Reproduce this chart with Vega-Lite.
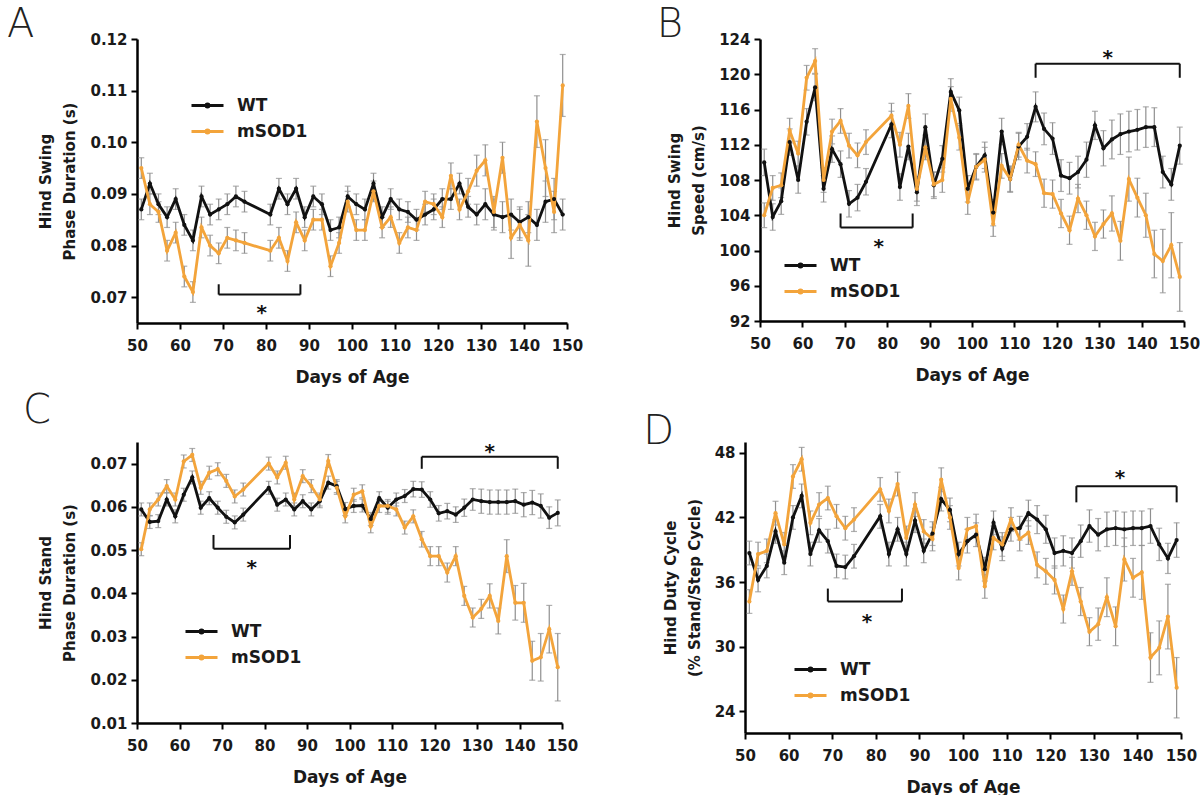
{
"$schema":"https://vega.github.io/schema/vega-lite/v6.json",
"padding":{"left":6,"top":5,"right":0,"bottom":0},
"background":"white",
"config":{
 "view":{"stroke":null},
 "font":"DejaVu Sans",
 "axis":{"grid":false,"domainColor":"#000","domainWidth":2.5,"tickColor":"#000","tickWidth":2,"tickSize":6,"labelFont":"DejaVu Sans","labelFontSize":15,"labelFontWeight":"bold","labelColor":"#1a1a1a","titleFont":"DejaVu Sans","titleFontSize":15,"titleFontWeight":"bold","titleColor":"#1a1a1a","labelPadding":4,"labelOverlap":false},
 "axisX":{"titleFontSize":17,"titlePadding":16,"labelPadding":9,"labelFlush":false},
 "axisY":{"titlePadding":12,"titleLineHeight":24},
 "title":{"font":"DejaVu Sans","fontSize":40,"fontWeight":300,"anchor":"start","frame":"bounds","baseline":"alphabetic","offset":-13,"color":"#222"},
 "legend":{"labelFont":"DejaVu Sans","labelFontSize":17,"labelFontWeight":"bold","labelColor":"#1a1a1a","symbolType":"M-1,0H1M-0.1,0A0.1,0.1 0 1,0 0.1,0A0.1,0.1 0 1,0 -0.1,0","symbolSize":1024,"symbolStrokeWidth":2.8,"rowPadding":-8,"labelOffset":12}
},
"resolve":{"scale":{"color":"independent"},"legend":{"color":"independent"}},
"vconcat":[
 {"hconcat":[
  {"width":430,"height":284,"title":{"text":"A","dx":-32},
   "layer":[
    {"data":{"name":"A"},"mark":{"type":"errorbar","color":"#8f8f8f","thickness":1.2,"size":6,"ticks":true},
     "encoding":{"x":{"field":"d","type":"quantitative","scale":{"domain":[50,150],"nice":false,"zero":false},"axis":{"title":"Days of Age","values":[50,60,70,80,90,100,110,120,130,140,150],"labelOverlap":false}},
      "y":{"field":"m","type":"quantitative","scale":{"domain":[0.065,0.12],"nice":false,"zero":false},"axis":{"title":["Hind Swing","Phase Duration (s)"],"values":[0.07,0.08,0.09,0.1,0.11,0.12],"format":".2f","labelOverlap":false}},
      "yError":{"field":"e"},"detail":{"field":"g"}}},
    {"data":{"name":"A"},"mark":{"type":"line","strokeWidth":2.8,"point":{"filled":true,"size":18}},
     "encoding":{"x":{"field":"d","type":"quantitative"},"y":{"field":"m","type":"quantitative"},
      "color":{"field":"g","type":"nominal","scale":{"domain":["WT","mSOD1"],"range":["#111111","#F3A43B"]},"legend":{"title":null,"orient":"none","legendX":53,"legendY":49}}}},
    {"data":{"name":"bA"},"mark":{"type":"rule","color":"#111","strokeWidth":2},
     "encoding":{"x":{"field":"d","type":"quantitative"},"x2":{"field":"d2"},"y":{"field":"m","type":"quantitative"},"y2":{"field":"m2"}}},
    {"data":{"name":"sA"},"mark":{"type":"text","fontSize":20,"fontWeight":"bold","baseline":"middle","dy":5,"color":"#111"},
     "encoding":{"x":{"field":"d","type":"quantitative"},"y":{"field":"m","type":"quantitative"},"text":{"field":"t"}}}
   ]},
  {"width":424,"height":282,"title":{"text":"B","dx":-11},
   "layer":[
    {"data":{"name":"B"},"mark":{"type":"errorbar","color":"#8f8f8f","thickness":1.2,"size":6,"ticks":true},
     "encoding":{"x":{"field":"d","type":"quantitative","scale":{"domain":[50,150],"nice":false,"zero":false},"axis":{"title":"Days of Age","values":[50,60,70,80,90,100,110,120,130,140,150],"labelOverlap":false}},
      "y":{"field":"m","type":"quantitative","scale":{"domain":[92,124],"nice":false,"zero":false},"axis":{"title":["Hind Swing","Speed (cm/s)"],"values":[92,96,100,104,108,112,116,120,124],"format":"d","labelOverlap":false,"tickCount":9}},
      "yError":{"field":"e"},"detail":{"field":"g"}}},
    {"data":{"name":"B"},"mark":{"type":"line","strokeWidth":2.8,"point":{"filled":true,"size":18}},
     "encoding":{"x":{"field":"d","type":"quantitative"},"y":{"field":"m","type":"quantitative"},
      "color":{"field":"g","type":"nominal","scale":{"domain":["WT","mSOD1"],"range":["#111111","#F3A43B"]},"legend":{"title":null,"orient":"none","legendX":23,"legendY":209}}}},
    {"data":{"name":"bB"},"mark":{"type":"rule","color":"#111","strokeWidth":2},
     "encoding":{"x":{"field":"d","type":"quantitative"},"x2":{"field":"d2"},"y":{"field":"m","type":"quantitative"},"y2":{"field":"m2"}}},
    {"data":{"name":"sB"},"mark":{"type":"text","fontSize":20,"fontWeight":"bold","baseline":"middle","dy":5,"color":"#111"},
     "encoding":{"x":{"field":"d","type":"quantitative"},"y":{"field":"m","type":"quantitative"},"text":{"field":"t"}}}
   ]}
 ],"spacing":73,"resolve":{"scale":{"color":"independent"},"legend":{"color":"independent"}}},
 {"hconcat":[
  {"width":425,"height":281,"title":{"text":"C","dx":-16,"offset":11},
   "layer":[
    {"data":{"name":"C"},"mark":{"type":"errorbar","color":"#8f8f8f","thickness":1.2,"size":6,"ticks":true},
     "encoding":{"x":{"field":"d","type":"quantitative","scale":{"domain":[50,150],"nice":false,"zero":false},"axis":{"title":"Days of Age","values":[50,60,70,80,90,100,110,120,130,140,150],"labelOverlap":false}},
      "y":{"field":"m","type":"quantitative","scale":{"domain":[0.01,0.075],"nice":false,"zero":false},"axis":{"title":["Hind Stand","Phase Duration (s)"],"values":[0.01,0.02,0.03,0.04,0.05,0.06,0.07],"format":".2f","labelOverlap":false}},
      "yError":{"field":"e"},"detail":{"field":"g"}}},
    {"data":{"name":"C"},"mark":{"type":"line","strokeWidth":2.8,"point":{"filled":true,"size":18}},
     "encoding":{"x":{"field":"d","type":"quantitative"},"y":{"field":"m","type":"quantitative"},
      "color":{"field":"g","type":"nominal","scale":{"domain":["WT","mSOD1"],"range":["#111111","#F3A43B"]},"legend":{"title":null,"orient":"none","legendX":47,"legendY":172}}}},
    {"data":{"name":"bC"},"mark":{"type":"rule","color":"#111","strokeWidth":2},
     "encoding":{"x":{"field":"d","type":"quantitative"},"x2":{"field":"d2"},"y":{"field":"m","type":"quantitative"},"y2":{"field":"m2"}}},
    {"data":{"name":"sC"},"mark":{"type":"text","fontSize":20,"fontWeight":"bold","baseline":"middle","dy":5,"color":"#111"},
     "encoding":{"x":{"field":"d","type":"quantitative"},"y":{"field":"m","type":"quantitative"},"text":{"field":"t"}}}
   ]},
  {"width":436,"height":291,"title":{"text":"D","dx":-20,"offset":-10},
   "layer":[
    {"data":{"name":"D"},"mark":{"type":"errorbar","color":"#8f8f8f","thickness":1.2,"size":6,"ticks":true},
     "encoding":{"x":{"field":"d","type":"quantitative","scale":{"domain":[50,150],"nice":false,"zero":false},"axis":{"title":"Days of Age","values":[50,60,70,80,90,100,110,120,130,140,150],"labelOverlap":false}},
      "y":{"field":"m","type":"quantitative","scale":{"domain":[22,49],"nice":false,"zero":false},"axis":{"title":["Hind Duty Cycle","(% Stand/Step Cycle)"],"values":[24,30,36,42,48],"labelOverlap":false}},
      "yError":{"field":"e"},"detail":{"field":"g"}}},
    {"data":{"name":"D"},"mark":{"type":"line","strokeWidth":2.8,"point":{"filled":true,"size":18}},
     "encoding":{"x":{"field":"d","type":"quantitative"},"y":{"field":"m","type":"quantitative"},
      "color":{"field":"g","type":"nominal","scale":{"domain":["WT","mSOD1"],"range":["#111111","#F3A43B"]},"legend":{"title":null,"orient":"none","legendX":48,"legendY":210}}}},
    {"data":{"name":"bD"},"mark":{"type":"rule","color":"#111","strokeWidth":2},
     "encoding":{"x":{"field":"d","type":"quantitative"},"x2":{"field":"d2"},"y":{"field":"m","type":"quantitative"},"y2":{"field":"m2"}}},
    {"data":{"name":"sD"},"mark":{"type":"text","fontSize":20,"fontWeight":"bold","baseline":"middle","dy":5,"color":"#111"},
     "encoding":{"x":{"field":"d","type":"quantitative"},"y":{"field":"m","type":"quantitative"},"text":{"field":"t"}}}
   ]}
 ],"spacing":65,"resolve":{"scale":{"color":"independent"},"legend":{"color":"independent"}}}
],
"spacing":6,
"datasets":{
"bA":[{"d":69,"d2":88,"m":0.0705,"m2":0.0705},{"d":69,"d2":69,"m":0.0705,"m2":0.0725},{"d":88,"d2":88,"m":0.0705,"m2":0.0725}],
"sA":[{"d":79,"m":0.068,"t":"*"}],
"bB":[{"d":69,"d2":86,"m":102.6,"m2":102.6},{"d":69,"d2":69,"m":102.6,"m2":104.2},{"d":86,"d2":86,"m":102.6,"m2":104.2},{"d":115,"d2":149,"m":121.2,"m2":121.2},{"d":115,"d2":115,"m":121.2,"m2":119.6},{"d":149,"d2":149,"m":121.2,"m2":119.6}],
"sB":[{"d":78,"m":101,"t":"*"},{"d":132,"m":122.4,"t":"*"}],
"bC":[{"d":68,"d2":86,"m":0.0503,"m2":0.0503},{"d":68,"d2":68,"m":0.0503,"m2":0.0535},{"d":86,"d2":86,"m":0.0503,"m2":0.0535},{"d":117,"d2":149,"m":0.0716,"m2":0.0716},{"d":117,"d2":117,"m":0.0716,"m2":0.0688},{"d":149,"d2":149,"m":0.0716,"m2":0.0688}],
"sC":[{"d":77,"m":0.047,"t":"*"},{"d":133,"m":0.0738,"t":"*"}],
"bD":[{"d":69,"d2":86,"m":34.2,"m2":34.2},{"d":69,"d2":69,"m":34.2,"m2":35.4},{"d":86,"d2":86,"m":34.2,"m2":35.4},{"d":126,"d2":149,"m":44.9,"m2":44.9},{"d":126,"d2":126,"m":44.9,"m2":43.4},{"d":149,"d2":149,"m":44.9,"m2":43.4}],
"sD":[{"d":78,"m":32.8,"t":"*"},{"d":136,"m":46.1,"t":"*"}],
"A":[
{"d":51,"g":"WT","m":0.087,"e":0.002},{"d":53,"g":"WT","m":0.092,"e":0.002},{"d":55,"g":"WT","m":0.088,"e":0.002},{"d":57,"g":"WT","m":0.0855,"e":0.002},{"d":59,"g":"WT","m":0.089,"e":0.002},{"d":61,"g":"WT","m":0.084,"e":0.002},{"d":63,"g":"WT","m":0.081,"e":0.002},{"d":65,"g":"WT","m":0.0895,"e":0.002},{"d":67,"g":"WT","m":0.086,"e":0.002},{"d":69,"g":"WT","m":0.087,"e":0.002},{"d":71,"g":"WT","m":0.088,"e":0.002},{"d":73,"g":"WT","m":0.0895,"e":0.002},{"d":75,"g":"WT","m":0.0885,"e":0.002},{"d":81,"g":"WT","m":0.086,"e":0.002},{"d":83,"g":"WT","m":0.091,"e":0.002},{"d":85,"g":"WT","m":0.088,"e":0.002},{"d":87,"g":"WT","m":0.091,"e":0.002},{"d":89,"g":"WT","m":0.0855,"e":0.002},{"d":91,"g":"WT","m":0.0895,"e":0.002},{"d":93,"g":"WT","m":0.088,"e":0.002},{"d":95,"g":"WT","m":0.083,"e":0.002},{"d":97,"g":"WT","m":0.0835,"e":0.002},{"d":99,"g":"WT","m":0.0895,"e":0.002},{"d":101,"g":"WT","m":0.088,"e":0.002},{"d":103,"g":"WT","m":0.087,"e":0.002},{"d":105,"g":"WT","m":0.092,"e":0.002},{"d":107,"g":"WT","m":0.0855,"e":0.002},{"d":109,"g":"WT","m":0.089,"e":0.002},{"d":111,"g":"WT","m":0.087,"e":0.002},{"d":113,"g":"WT","m":0.0865,"e":0.002},{"d":115,"g":"WT","m":0.085,"e":0.002},{"d":117,"g":"WT","m":0.086,"e":0.002},{"d":119,"g":"WT","m":0.087,"e":0.002},{"d":121,"g":"WT","m":0.089,"e":0.002},{"d":123,"g":"WT","m":0.089,"e":0.002},{"d":125,"g":"WT","m":0.092,"e":0.002},{"d":127,"g":"WT","m":0.0875,"e":0.002},{"d":129,"g":"WT","m":0.086,"e":0.002},{"d":131,"g":"WT","m":0.088,"e":0.003},{"d":133,"g":"WT","m":0.086,"e":0.003},{"d":135,"g":"WT","m":0.0855,"e":0.003},{"d":137,"g":"WT","m":0.086,"e":0.003},{"d":139,"g":"WT","m":0.0845,"e":0.003},{"d":141,"g":"WT","m":0.0855,"e":0.003},{"d":143,"g":"WT","m":0.084,"e":0.003},{"d":145,"g":"WT","m":0.0885,"e":0.004},{"d":147,"g":"WT","m":0.089,"e":0.004},{"d":149,"g":"WT","m":0.086,"e":0.003},
{"d":51,"g":"mSOD1","m":0.095,"e":0.002},{"d":53,"g":"mSOD1","m":0.088,"e":0.002},{"d":55,"g":"mSOD1","m":0.0865,"e":0.002},{"d":57,"g":"mSOD1","m":0.079,"e":0.002},{"d":59,"g":"mSOD1","m":0.0825,"e":0.002},{"d":61,"g":"mSOD1","m":0.074,"e":0.002},{"d":63,"g":"mSOD1","m":0.071,"e":0.002},{"d":65,"g":"mSOD1","m":0.0835,"e":0.002},{"d":67,"g":"mSOD1","m":0.08,"e":0.002},{"d":69,"g":"mSOD1","m":0.0785,"e":0.002},{"d":71,"g":"mSOD1","m":0.0815,"e":0.002},{"d":73,"g":"mSOD1","m":0.081,"e":0.002},{"d":75,"g":"mSOD1","m":0.0805,"e":0.002},{"d":81,"g":"mSOD1","m":0.079,"e":0.002},{"d":83,"g":"mSOD1","m":0.0815,"e":0.002},{"d":85,"g":"mSOD1","m":0.077,"e":0.002},{"d":87,"g":"mSOD1","m":0.0845,"e":0.002},{"d":89,"g":"mSOD1","m":0.081,"e":0.002},{"d":91,"g":"mSOD1","m":0.085,"e":0.002},{"d":93,"g":"mSOD1","m":0.085,"e":0.002},{"d":95,"g":"mSOD1","m":0.076,"e":0.002},{"d":97,"g":"mSOD1","m":0.0805,"e":0.002},{"d":99,"g":"mSOD1","m":0.0885,"e":0.002},{"d":101,"g":"mSOD1","m":0.083,"e":0.002},{"d":103,"g":"mSOD1","m":0.083,"e":0.002},{"d":105,"g":"mSOD1","m":0.0905,"e":0.002},{"d":107,"g":"mSOD1","m":0.0835,"e":0.002},{"d":109,"g":"mSOD1","m":0.0855,"e":0.002},{"d":111,"g":"mSOD1","m":0.0805,"e":0.002},{"d":113,"g":"mSOD1","m":0.0835,"e":0.002},{"d":115,"g":"mSOD1","m":0.083,"e":0.002},{"d":117,"g":"mSOD1","m":0.0885,"e":0.002},{"d":119,"g":"mSOD1","m":0.088,"e":0.002},{"d":121,"g":"mSOD1","m":0.0855,"e":0.002},{"d":123,"g":"mSOD1","m":0.0935,"e":0.0025},{"d":125,"g":"mSOD1","m":0.087,"e":0.002},{"d":127,"g":"mSOD1","m":0.0905,"e":0.0025},{"d":129,"g":"mSOD1","m":0.0945,"e":0.003},{"d":131,"g":"mSOD1","m":0.0965,"e":0.003},{"d":133,"g":"mSOD1","m":0.0865,"e":0.003},{"d":135,"g":"mSOD1","m":0.097,"e":0.003},{"d":137,"g":"mSOD1","m":0.0815,"e":0.004},{"d":139,"g":"mSOD1","m":0.084,"e":0.003},{"d":141,"g":"mSOD1","m":0.081,"e":0.005},{"d":143,"g":"mSOD1","m":0.104,"e":0.005},{"d":145,"g":"mSOD1","m":0.095,"e":0.0055},{"d":147,"g":"mSOD1","m":0.0865,"e":0.004},{"d":149,"g":"mSOD1","m":0.111,"e":0.006}
],
"B":[
{"d":51,"g":"WT","m":110,"e":1.5},{"d":53,"g":"WT","m":103.8,"e":1.5},{"d":55,"g":"WT","m":105.6,"e":1.5},{"d":57,"g":"WT","m":112.3,"e":1.5},{"d":59,"g":"WT","m":108,"e":1.5},{"d":61,"g":"WT","m":114.6,"e":1.5},{"d":63,"g":"WT","m":118.5,"e":1.5},{"d":65,"g":"WT","m":107,"e":1.5},{"d":67,"g":"WT","m":111.5,"e":1.5},{"d":69,"g":"WT","m":109.8,"e":1.5},{"d":71,"g":"WT","m":105.3,"e":1.5},{"d":73,"g":"WT","m":106,"e":1.5},{"d":75,"g":"WT","m":107.8,"e":1.5},{"d":81,"g":"WT","m":114.3,"e":1.5},{"d":83,"g":"WT","m":107.2,"e":1.5},{"d":85,"g":"WT","m":111.8,"e":1.5},{"d":87,"g":"WT","m":106.6,"e":1.5},{"d":89,"g":"WT","m":114,"e":1.5},{"d":91,"g":"WT","m":107.4,"e":1.5},{"d":93,"g":"WT","m":110.4,"e":1.5},{"d":95,"g":"WT","m":118,"e":1.5},{"d":97,"g":"WT","m":115.9,"e":1.5},{"d":99,"g":"WT","m":107,"e":1.5},{"d":101,"g":"WT","m":109.5,"e":1.5},{"d":103,"g":"WT","m":110.8,"e":1.5},{"d":105,"g":"WT","m":104.3,"e":1.5},{"d":107,"g":"WT","m":113.5,"e":1.5},{"d":109,"g":"WT","m":108.1,"e":1.5},{"d":111,"g":"WT","m":111.8,"e":1.5},{"d":113,"g":"WT","m":112.9,"e":1.5},{"d":115,"g":"WT","m":116.3,"e":1.7},{"d":117,"g":"WT","m":113.8,"e":1.8},{"d":119,"g":"WT","m":112.7,"e":1.8},{"d":121,"g":"WT","m":108.5,"e":1.8},{"d":123,"g":"WT","m":108.2,"e":1.8},{"d":125,"g":"WT","m":108.9,"e":1.8},{"d":127,"g":"WT","m":110.3,"e":2},{"d":129,"g":"WT","m":114.2,"e":1.6},{"d":131,"g":"WT","m":111.6,"e":2},{"d":133,"g":"WT","m":112.6,"e":2.2},{"d":135,"g":"WT","m":113.2,"e":2.3},{"d":137,"g":"WT","m":113.5,"e":2.3},{"d":139,"g":"WT","m":113.7,"e":2.3},{"d":141,"g":"WT","m":114,"e":2.3},{"d":143,"g":"WT","m":114,"e":2.2},{"d":145,"g":"WT","m":108.9,"e":1.8},{"d":147,"g":"WT","m":107.5,"e":1.8},{"d":149,"g":"WT","m":111.9,"e":2.1},
{"d":51,"g":"mSOD1","m":104,"e":1.4},{"d":53,"g":"mSOD1","m":107.1,"e":1.4},{"d":55,"g":"mSOD1","m":107.4,"e":1.4},{"d":57,"g":"mSOD1","m":113.6,"e":1.4},{"d":59,"g":"mSOD1","m":111,"e":1.4},{"d":61,"g":"mSOD1","m":119.6,"e":1.4},{"d":63,"g":"mSOD1","m":121.5,"e":1.4},{"d":65,"g":"mSOD1","m":108,"e":1.4},{"d":67,"g":"mSOD1","m":113.5,"e":1.4},{"d":69,"g":"mSOD1","m":114.7,"e":1.4},{"d":71,"g":"mSOD1","m":111.9,"e":1.4},{"d":73,"g":"mSOD1","m":110.8,"e":1.4},{"d":75,"g":"mSOD1","m":112.3,"e":1.4},{"d":81,"g":"mSOD1","m":115.3,"e":1.4},{"d":83,"g":"mSOD1","m":112,"e":1.4},{"d":85,"g":"mSOD1","m":116.4,"e":1.4},{"d":87,"g":"mSOD1","m":107,"e":1.4},{"d":89,"g":"mSOD1","m":111.7,"e":1.4},{"d":91,"g":"mSOD1","m":107.5,"e":1.4},{"d":93,"g":"mSOD1","m":108,"e":1.4},{"d":95,"g":"mSOD1","m":117.2,"e":1.4},{"d":97,"g":"mSOD1","m":112.8,"e":1.4},{"d":99,"g":"mSOD1","m":105.5,"e":1.4},{"d":101,"g":"mSOD1","m":109.5,"e":1.4},{"d":103,"g":"mSOD1","m":110.3,"e":1.4},{"d":105,"g":"mSOD1","m":103,"e":1.4},{"d":107,"g":"mSOD1","m":109.6,"e":1.4},{"d":109,"g":"mSOD1","m":108.1,"e":1.4},{"d":111,"g":"mSOD1","m":112,"e":1.4},{"d":113,"g":"mSOD1","m":110.2,"e":1.4},{"d":115,"g":"mSOD1","m":109.8,"e":1.4},{"d":117,"g":"mSOD1","m":106.5,"e":1.6},{"d":119,"g":"mSOD1","m":106.4,"e":1.6},{"d":121,"g":"mSOD1","m":104.2,"e":1.6},{"d":123,"g":"mSOD1","m":102.3,"e":1.6},{"d":125,"g":"mSOD1","m":105.9,"e":1.6},{"d":127,"g":"mSOD1","m":104,"e":1.6},{"d":129,"g":"mSOD1","m":101.6,"e":1.6},{"d":131,"g":"mSOD1","m":103,"e":1.6},{"d":133,"g":"mSOD1","m":104.2,"e":2},{"d":135,"g":"mSOD1","m":101.1,"e":2.2},{"d":137,"g":"mSOD1","m":108.1,"e":2.5},{"d":139,"g":"mSOD1","m":106,"e":2.2},{"d":141,"g":"mSOD1","m":104,"e":2.5},{"d":143,"g":"mSOD1","m":99.6,"e":2.7},{"d":145,"g":"mSOD1","m":98.8,"e":3.6},{"d":147,"g":"mSOD1","m":100.6,"e":3.7},{"d":149,"g":"mSOD1","m":97,"e":3.9}
],
"C":[
{"d":51,"g":"WT","m":0.0594,"e":0.0015},{"d":53,"g":"WT","m":0.0565,"e":0.0015},{"d":55,"g":"WT","m":0.0567,"e":0.0015},{"d":57,"g":"WT","m":0.0617,"e":0.0015},{"d":59,"g":"WT","m":0.0578,"e":0.0015},{"d":61,"g":"WT","m":0.0628,"e":0.0015},{"d":63,"g":"WT","m":0.0668,"e":0.0015},{"d":65,"g":"WT","m":0.0598,"e":0.0015},{"d":67,"g":"WT","m":0.062,"e":0.0015},{"d":69,"g":"WT","m":0.0598,"e":0.0015},{"d":71,"g":"WT","m":0.0577,"e":0.0015},{"d":73,"g":"WT","m":0.0564,"e":0.0015},{"d":75,"g":"WT","m":0.0582,"e":0.0015},{"d":81,"g":"WT","m":0.0644,"e":0.0015},{"d":83,"g":"WT","m":0.0605,"e":0.0015},{"d":85,"g":"WT","m":0.0617,"e":0.0015},{"d":87,"g":"WT","m":0.0594,"e":0.0015},{"d":89,"g":"WT","m":0.0613,"e":0.0015},{"d":91,"g":"WT","m":0.0594,"e":0.0015},{"d":93,"g":"WT","m":0.0613,"e":0.0015},{"d":95,"g":"WT","m":0.0656,"e":0.0015},{"d":97,"g":"WT","m":0.0648,"e":0.0015},{"d":99,"g":"WT","m":0.0595,"e":0.0015},{"d":101,"g":"WT","m":0.0602,"e":0.0015},{"d":103,"g":"WT","m":0.0603,"e":0.0015},{"d":105,"g":"WT","m":0.0572,"e":0.0015},{"d":107,"g":"WT","m":0.062,"e":0.0015},{"d":109,"g":"WT","m":0.0598,"e":0.0015},{"d":111,"g":"WT","m":0.0617,"e":0.0015},{"d":113,"g":"WT","m":0.0625,"e":0.0015},{"d":115,"g":"WT","m":0.0641,"e":0.0018},{"d":117,"g":"WT","m":0.064,"e":0.0018},{"d":119,"g":"WT","m":0.0617,"e":0.0018},{"d":121,"g":"WT","m":0.0585,"e":0.0018},{"d":123,"g":"WT","m":0.059,"e":0.0018},{"d":125,"g":"WT","m":0.0582,"e":0.0018},{"d":127,"g":"WT","m":0.0598,"e":0.002},{"d":129,"g":"WT","m":0.0617,"e":0.0025},{"d":131,"g":"WT","m":0.0613,"e":0.0028},{"d":133,"g":"WT","m":0.0611,"e":0.0028},{"d":135,"g":"WT","m":0.0611,"e":0.0028},{"d":137,"g":"WT","m":0.0611,"e":0.0028},{"d":139,"g":"WT","m":0.0613,"e":0.0028},{"d":141,"g":"WT","m":0.0605,"e":0.0028},{"d":143,"g":"WT","m":0.061,"e":0.0028},{"d":145,"g":"WT","m":0.0602,"e":0.0028},{"d":147,"g":"WT","m":0.0575,"e":0.0025},{"d":149,"g":"WT","m":0.0586,"e":0.003},
{"d":51,"g":"mSOD1","m":0.0502,"e":0.0015},{"d":53,"g":"mSOD1","m":0.0594,"e":0.0015},{"d":55,"g":"mSOD1","m":0.0617,"e":0.0015},{"d":57,"g":"mSOD1","m":0.0648,"e":0.0015},{"d":59,"g":"mSOD1","m":0.0617,"e":0.0015},{"d":61,"g":"mSOD1","m":0.0705,"e":0.0015},{"d":63,"g":"mSOD1","m":0.072,"e":0.0015},{"d":65,"g":"mSOD1","m":0.0644,"e":0.0015},{"d":67,"g":"mSOD1","m":0.0679,"e":0.0015},{"d":69,"g":"mSOD1","m":0.0687,"e":0.0015},{"d":71,"g":"mSOD1","m":0.066,"e":0.0015},{"d":73,"g":"mSOD1","m":0.0624,"e":0.0015},{"d":75,"g":"mSOD1","m":0.064,"e":0.0015},{"d":81,"g":"mSOD1","m":0.07,"e":0.0015},{"d":83,"g":"mSOD1","m":0.0668,"e":0.0015},{"d":85,"g":"mSOD1","m":0.0702,"e":0.0015},{"d":87,"g":"mSOD1","m":0.0617,"e":0.0015},{"d":89,"g":"mSOD1","m":0.0671,"e":0.0015},{"d":91,"g":"mSOD1","m":0.0648,"e":0.0015},{"d":93,"g":"mSOD1","m":0.0617,"e":0.0015},{"d":95,"g":"mSOD1","m":0.0706,"e":0.0015},{"d":97,"g":"mSOD1","m":0.0644,"e":0.0015},{"d":99,"g":"mSOD1","m":0.0578,"e":0.0015},{"d":101,"g":"mSOD1","m":0.0628,"e":0.0015},{"d":103,"g":"mSOD1","m":0.0636,"e":0.0015},{"d":105,"g":"mSOD1","m":0.0555,"e":0.0015},{"d":107,"g":"mSOD1","m":0.0602,"e":0.0015},{"d":109,"g":"mSOD1","m":0.0602,"e":0.0015},{"d":111,"g":"mSOD1","m":0.0594,"e":0.0015},{"d":113,"g":"mSOD1","m":0.0552,"e":0.0015},{"d":115,"g":"mSOD1","m":0.0578,"e":0.0015},{"d":117,"g":"mSOD1","m":0.0525,"e":0.0018},{"d":119,"g":"mSOD1","m":0.0486,"e":0.0022},{"d":121,"g":"mSOD1","m":0.0486,"e":0.0022},{"d":123,"g":"mSOD1","m":0.0448,"e":0.0022},{"d":125,"g":"mSOD1","m":0.0486,"e":0.0022},{"d":127,"g":"mSOD1","m":0.0394,"e":0.0022},{"d":129,"g":"mSOD1","m":0.0344,"e":0.0022},{"d":131,"g":"mSOD1","m":0.0364,"e":0.0022},{"d":133,"g":"mSOD1","m":0.0394,"e":0.0028},{"d":135,"g":"mSOD1","m":0.0336,"e":0.003},{"d":137,"g":"mSOD1","m":0.0486,"e":0.0038},{"d":139,"g":"mSOD1","m":0.0378,"e":0.004},{"d":141,"g":"mSOD1","m":0.0378,"e":0.0045},{"d":143,"g":"mSOD1","m":0.0244,"e":0.0045},{"d":145,"g":"mSOD1","m":0.0252,"e":0.0055},{"d":147,"g":"mSOD1","m":0.0317,"e":0.0055},{"d":149,"g":"mSOD1","m":0.0229,"e":0.0078}
],
"D":[
{"d":51,"g":"WT","m":38.7,"e":1.1},{"d":53,"g":"WT","m":36.2,"e":1.1},{"d":55,"g":"WT","m":37.5,"e":1.1},{"d":57,"g":"WT","m":40.7,"e":1.1},{"d":59,"g":"WT","m":37.8,"e":1.1},{"d":61,"g":"WT","m":42,"e":1.1},{"d":63,"g":"WT","m":44,"e":1.1},{"d":65,"g":"WT","m":38.6,"e":1.1},{"d":67,"g":"WT","m":40.8,"e":1.1},{"d":69,"g":"WT","m":39.8,"e":1.1},{"d":71,"g":"WT","m":37.5,"e":1.1},{"d":73,"g":"WT","m":37.4,"e":1.1},{"d":75,"g":"WT","m":38.4,"e":1.1},{"d":81,"g":"WT","m":42.1,"e":1.1},{"d":83,"g":"WT","m":38.6,"e":1.1},{"d":85,"g":"WT","m":40.9,"e":1.1},{"d":87,"g":"WT","m":38.6,"e":1.1},{"d":89,"g":"WT","m":41.7,"e":1.1},{"d":91,"g":"WT","m":38.9,"e":1.1},{"d":93,"g":"WT","m":40.5,"e":1.1},{"d":95,"g":"WT","m":43.7,"e":1.1},{"d":97,"g":"WT","m":42.7,"e":1.1},{"d":99,"g":"WT","m":38.6,"e":1.1},{"d":101,"g":"WT","m":39.8,"e":1.1},{"d":103,"g":"WT","m":40.4,"e":1.1},{"d":105,"g":"WT","m":37.2,"e":1.1},{"d":107,"g":"WT","m":41.5,"e":1.1},{"d":109,"g":"WT","m":39.1,"e":1.1},{"d":111,"g":"WT","m":40.9,"e":1.1},{"d":113,"g":"WT","m":41,"e":1.1},{"d":115,"g":"WT","m":42.4,"e":1.2},{"d":117,"g":"WT","m":41.8,"e":1.3},{"d":119,"g":"WT","m":40.9,"e":1.3},{"d":121,"g":"WT","m":38.7,"e":1.4},{"d":123,"g":"WT","m":38.9,"e":1.4},{"d":125,"g":"WT","m":38.7,"e":1.4},{"d":127,"g":"WT","m":39.8,"e":1.5},{"d":129,"g":"WT","m":41.2,"e":1.5},{"d":131,"g":"WT","m":40.4,"e":1.5},{"d":133,"g":"WT","m":40.9,"e":1.6},{"d":135,"g":"WT","m":41,"e":1.6},{"d":137,"g":"WT","m":40.9,"e":1.6},{"d":139,"g":"WT","m":41,"e":1.6},{"d":141,"g":"WT","m":41,"e":1.6},{"d":143,"g":"WT","m":41.2,"e":1.6},{"d":145,"g":"WT","m":39.5,"e":1.5},{"d":147,"g":"WT","m":38.2,"e":1.4},{"d":149,"g":"WT","m":39.9,"e":1.6},
{"d":51,"g":"mSOD1","m":34.2,"e":1.1},{"d":53,"g":"mSOD1","m":38.6,"e":1.1},{"d":55,"g":"mSOD1","m":38.9,"e":1.1},{"d":57,"g":"mSOD1","m":42.4,"e":1.1},{"d":59,"g":"mSOD1","m":39.5,"e":1.1},{"d":61,"g":"mSOD1","m":45.8,"e":1.1},{"d":63,"g":"mSOD1","m":47.4,"e":1.1},{"d":65,"g":"mSOD1","m":41.5,"e":1.1},{"d":67,"g":"mSOD1","m":43.2,"e":1.1},{"d":69,"g":"mSOD1","m":43.8,"e":1.1},{"d":71,"g":"mSOD1","m":42.1,"e":1.1},{"d":73,"g":"mSOD1","m":41,"e":1.1},{"d":75,"g":"mSOD1","m":41.8,"e":1.1},{"d":81,"g":"mSOD1","m":44.6,"e":1.1},{"d":83,"g":"mSOD1","m":42.6,"e":1.1},{"d":85,"g":"mSOD1","m":45.1,"e":1.1},{"d":87,"g":"mSOD1","m":40.1,"e":1.1},{"d":89,"g":"mSOD1","m":43.2,"e":1.1},{"d":91,"g":"mSOD1","m":40.7,"e":1.1},{"d":93,"g":"mSOD1","m":40,"e":1.1},{"d":95,"g":"mSOD1","m":45.5,"e":1.1},{"d":97,"g":"mSOD1","m":42,"e":1.1},{"d":99,"g":"mSOD1","m":37.3,"e":1.1},{"d":101,"g":"mSOD1","m":40.9,"e":1.1},{"d":103,"g":"mSOD1","m":41.2,"e":1.1},{"d":105,"g":"mSOD1","m":35.6,"e":1.1},{"d":107,"g":"mSOD1","m":40.1,"e":1.1},{"d":109,"g":"mSOD1","m":39.5,"e":1.1},{"d":111,"g":"mSOD1","m":41.8,"e":1.1},{"d":113,"g":"mSOD1","m":40,"e":1.1},{"d":115,"g":"mSOD1","m":40.6,"e":1.1},{"d":117,"g":"mSOD1","m":37.6,"e":1.2},{"d":119,"g":"mSOD1","m":37,"e":1.2},{"d":121,"g":"mSOD1","m":36.2,"e":1.3},{"d":123,"g":"mSOD1","m":33.5,"e":1.3},{"d":125,"g":"mSOD1","m":37,"e":1.3},{"d":127,"g":"mSOD1","m":34.2,"e":1.3},{"d":129,"g":"mSOD1","m":31.4,"e":1.3},{"d":131,"g":"mSOD1","m":32.1,"e":1.5},{"d":133,"g":"mSOD1","m":34.6,"e":1.8},{"d":135,"g":"mSOD1","m":31.9,"e":1.8},{"d":137,"g":"mSOD1","m":38.1,"e":2},{"d":139,"g":"mSOD1","m":36.4,"e":1.8},{"d":141,"g":"mSOD1","m":36.9,"e":2.5},{"d":143,"g":"mSOD1","m":29,"e":2.3},{"d":145,"g":"mSOD1","m":29.9,"e":2.5},{"d":147,"g":"mSOD1","m":32.8,"e":3},{"d":149,"g":"mSOD1","m":26.2,"e":2.8}
]
}
}
